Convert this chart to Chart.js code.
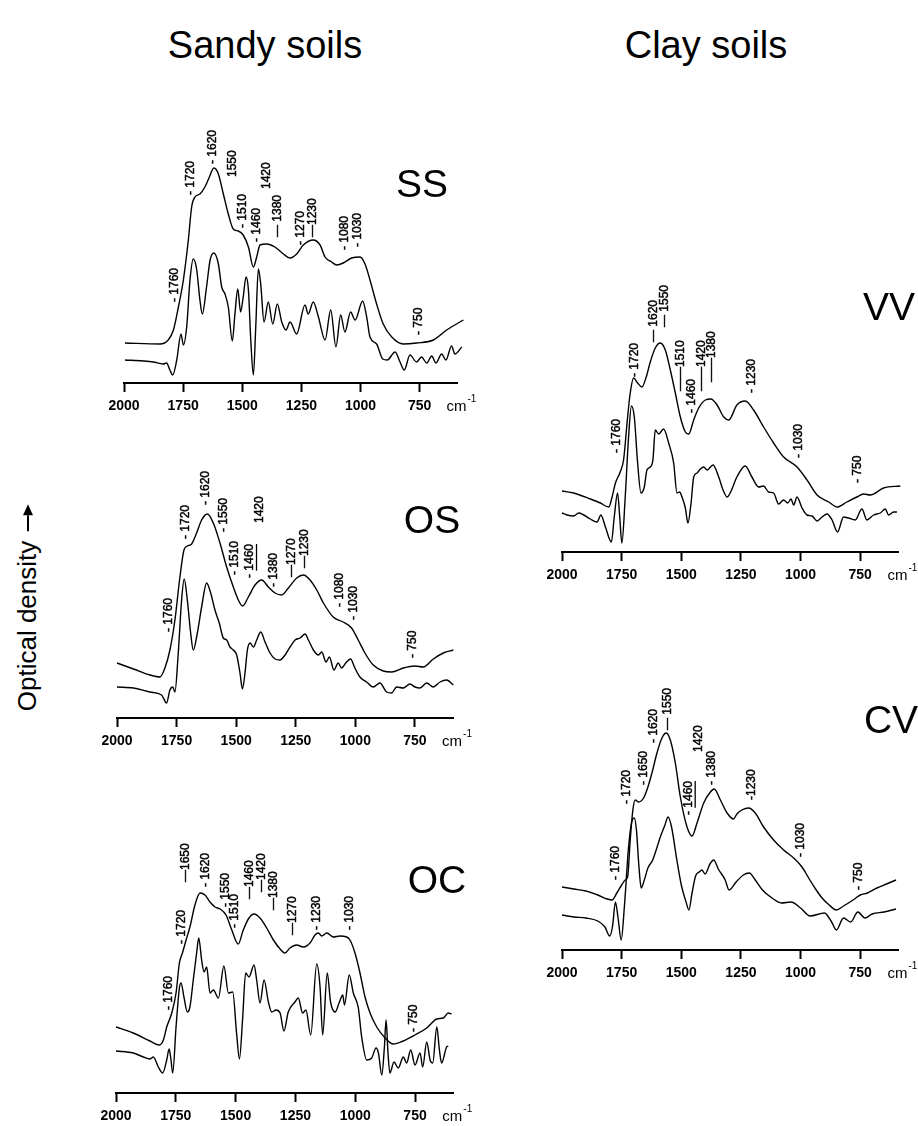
<!DOCTYPE html>
<html>
<head>
<meta charset="utf-8">
<script src="https://cdn.jsdelivr.net/npm/chart.js@4.4.1/dist/chart.umd.min.js"></script>
<style>
  body { margin: 0; background: #fff; }
  #page { position: relative; width: 918px; height: 1126px; overflow: hidden; font-family: "Liberation Sans", Arial, sans-serif; color: #000; }
  #page canvas { position: absolute; }
  .txt { position: absolute; white-space: nowrap; line-height: 1; transform: translateX(-50%); }
  #ylab { position: absolute; white-space: nowrap; line-height: 1; font-size: 26px; transform: translate(-50%, -50%) rotate(-90deg); }
  #ylab .arr { display: inline-block; position: relative; width: 16px; height: 2px; background: #000; vertical-align: middle; margin-left: 9px; margin-right: 11px; top: -1px; }
  #ylab .arr::after { content: ""; position: absolute; right: -11px; top: -4px; border-left: 11px solid #000; border-top: 5px solid transparent; border-bottom: 5px solid transparent; }
</style>
</head>
<body>
<div id="page">
  <div id="ylab" style="left:27px; top:608px;">Optical density<span class="arr"></span></div>
</div>
<script>
// wavenumber axis
const tickValues = [2000, 1750, 1500, 1250, 1000, 750];
const tickLabels = ['2000', '1750', '1500', '1250', '1000', '750'];

// [wavenumber cm-1, optical density (a.u.)]
const ssTop = [[1996,0.40],[1848,0.39],[1813,0.43],[1791,0.53],[1770,0.76],[1749,1.03],[1728,1.43],[1714,1.76],[1700,1.86],[1679,1.89],[1658,1.96],[1639,2.06],[1620,2.15],[1601,2.09],[1580,1.89],[1559,1.69],[1538,1.54],[1517,1.52],[1496,1.48],[1474,1.36],[1453,1.16],[1439,1.26],[1425,1.38],[1397,1.39],[1362,1.36],[1326,1.29],[1298,1.25],[1270,1.29],[1242,1.38],[1200,1.43],[1171,1.38],[1150,1.26],[1122,1.21],[1101,1.18],[1073,1.20],[1038,1.25],[1002,1.26],[981,1.19],[960,1.03],[932,0.79],[904,0.59],[868,0.46],[819,0.39],[763,0.40],[692,0.43],[636,0.53],[565,0.63]];
const ssBottom = [[1996,0.23],[1918,0.22],[1876,0.21],[1834,0.19],[1820,0.20],[1806,0.13],[1794,0.08],[1777,0.23],[1759,0.49],[1749,0.38],[1735,0.56],[1721,1.03],[1707,1.24],[1693,1.14],[1679,0.83],[1669,0.69],[1651,0.96],[1636,1.23],[1620,1.30],[1601,1.19],[1587,0.96],[1573,0.89],[1559,0.76],[1542,0.42],[1531,0.69],[1519,0.94],[1507,0.71],[1496,0.86],[1484,1.06],[1474,0.93],[1464,0.43],[1453,0.08],[1443,0.56],[1432,1.14],[1422,0.99],[1408,0.61],[1390,0.81],[1371,0.59],[1352,0.79],[1333,0.61],[1315,0.53],[1298,0.61],[1270,0.49],[1235,0.78],[1221,0.69],[1200,0.81],[1178,0.66],[1150,0.43],[1126,0.73],[1104,0.36],[1084,0.68],[1066,0.51],[1042,0.71],[1023,0.63],[991,0.82],[974,0.66],[960,0.46],[932,0.39],[906,0.24],[887,0.23],[854,0.31],[833,0.21],[815,0.13],[791,0.28],[763,0.21],[742,0.26],[720,0.20],[699,0.27],[681,0.20],[657,0.29],[639,0.23],[615,0.37],[601,0.29],[572,0.36]];
const ssPeaks = [['- 1760',1784,0.81],['- 1720',1717,1.88],['- 1620',1625,2.19],['1550',1541,2.06],['- 1510',1498,1.55],['- 1460',1439,1.41],['1420',1397,1.94],['\u2014 1380',1350,1.46],['- 1270',1253,1.38],['\u20141230',1202,1.46],['- 1080',1066,1.33],['- 1030',1012,1.36],['- 750',756,0.48]];

const osTop = [[2000,0.55],[1931,0.49],[1862,0.43],[1820,0.41],[1799,0.50],[1778,0.68],[1757,0.98],[1736,1.41],[1719,1.68],[1705,1.72],[1687,1.74],[1666,1.85],[1645,1.98],[1621,2.04],[1596,1.95],[1568,1.75],[1540,1.51],[1512,1.31],[1491,1.18],[1473,1.12],[1449,1.21],[1421,1.33],[1393,1.38],[1365,1.31],[1337,1.25],[1309,1.23],[1281,1.30],[1246,1.40],[1218,1.43],[1190,1.38],[1162,1.28],[1134,1.15],[1093,1.01],[1051,0.96],[1016,0.90],[988,0.78],[960,0.65],[925,0.53],[883,0.47],[848,0.46],[799,0.50],[750,0.52],[715,0.51],[673,0.59],[631,0.65],[589,0.68]];
const osBottom = [[2000,0.31],[1931,0.30],[1862,0.26],[1813,0.23],[1792,0.15],[1778,0.28],[1766,0.31],[1757,0.26],[1743,0.65],[1729,1.18],[1718,1.39],[1705,1.18],[1691,0.85],[1680,0.68],[1663,0.85],[1645,1.11],[1624,1.35],[1607,1.25],[1589,1.08],[1571,0.95],[1554,0.80],[1540,0.78],[1526,0.71],[1512,0.68],[1498,0.63],[1484,0.45],[1474,0.29],[1463,0.45],[1453,0.68],[1442,0.75],[1428,0.71],[1414,0.78],[1397,0.86],[1379,0.76],[1358,0.65],[1337,0.59],[1316,0.58],[1295,0.63],[1274,0.71],[1253,0.78],[1232,0.80],[1211,0.84],[1197,0.78],[1176,0.68],[1155,0.63],[1141,0.66],[1123,0.56],[1109,0.61],[1090,0.48],[1072,0.55],[1058,0.50],[1037,0.56],[1020,0.59],[1002,0.50],[981,0.41],[953,0.36],[925,0.31],[897,0.35],[869,0.26],[848,0.25],[827,0.31],[799,0.30],[771,0.34],[750,0.31],[729,0.30],[701,0.35],[673,0.31],[645,0.36],[617,0.38],[589,0.33]];
const osPeaks = [['- 1760',1785,0.86],['- 1720',1711,1.79],['- 1620',1627,2.13],['- 1550',1554,1.86],['- 1510',1505,1.43],['- 1460',1442,1.40,1],['1420',1403,1.95],['- 1380',1344,1.31],['\u20141270',1267,1.41],['\u20141230',1211,1.50],['- 1080',1067,1.11],['- 1030',1006,0.98],['- 750',760,0.60]];

const ocTop = [[2000,0.66],[1928,0.60],[1858,0.52],[1819,0.48],[1802,0.53],[1788,0.66],[1767,0.80],[1749,1.00],[1735,1.30],[1721,1.41],[1707,1.53],[1691,1.66],[1670,1.88],[1649,2.00],[1628,1.98],[1607,1.91],[1586,1.86],[1565,1.84],[1540,1.78],[1516,1.63],[1489,1.49],[1468,1.63],[1444,1.75],[1423,1.79],[1398,1.75],[1370,1.65],[1342,1.53],[1314,1.44],[1294,1.40],[1273,1.45],[1245,1.48],[1217,1.46],[1189,1.50],[1168,1.58],[1154,1.60],[1140,1.57],[1119,1.60],[1091,1.56],[1064,1.57],[1036,1.56],[1022,1.53],[1001,1.40],[980,1.20],[959,0.96],[938,0.80],[910,0.66],[875,0.55],[841,0.49],[799,0.52],[750,0.58],[701,0.65],[659,0.74],[632,0.75],[611,0.80],[597,0.79]];
const ocBottom = [[2000,0.42],[1928,0.40],[1886,0.36],[1858,0.34],[1844,0.36],[1823,0.26],[1805,0.20],[1788,0.33],[1778,0.44],[1770,0.33],[1763,0.20],[1749,0.66],[1735,1.05],[1728,1.10],[1716,0.96],[1702,0.81],[1691,0.86],[1677,1.13],[1663,1.40],[1654,1.55],[1642,1.33],[1632,1.21],[1621,1.26],[1607,1.00],[1593,1.03],[1572,0.95],[1549,1.27],[1530,1.00],[1512,1.01],[1496,0.60],[1484,0.34],[1471,0.73],[1458,1.20],[1444,1.16],[1423,1.28],[1412,1.13],[1398,0.90],[1381,1.13],[1363,0.91],[1349,0.81],[1331,0.83],[1314,0.80],[1298,0.62],[1280,0.81],[1252,0.91],[1238,0.95],[1220,0.80],[1206,0.83],[1186,0.58],[1161,1.29],[1147,1.06],[1136,0.58],[1117,1.20],[1103,0.91],[1084,0.81],[1066,0.91],[1052,0.98],[1045,0.88],[1025,1.18],[1008,1.00],[987,0.85],[973,0.56],[952,0.33],[931,0.35],[913,0.45],[903,0.40],[889,0.18],[878,0.46],[871,0.73],[863,0.40],[855,0.20],[838,0.31],[820,0.25],[799,0.36],[785,0.30],[768,0.43],[750,0.28],[729,0.40],[718,0.26],[701,0.51],[687,0.33],[676,0.30],[659,0.66],[648,0.43],[639,0.30],[618,0.46],[611,0.47]];
const ocPeaks = [['- 1760',1781,0.83],['- 1720',1725,1.49],['\u20141650',1707,2.11],['- 1620',1624,2.06],['- 1550',1540,1.86],['- 1510',1503,1.65],['\u20141460',1440,1.94],['\u20141420',1391,2.01],['\u20141380',1340,1.83],['\u20141270',1263,1.58],['- 1230',1161,1.63],['- 1030',1025,1.63],['- 750',757,0.61]];

const vvTop = [[2000,0.61],[1951,0.59],[1881,0.53],[1839,0.49],[1804,0.45],[1790,0.55],[1776,0.69],[1756,0.80],[1742,0.92],[1725,1.35],[1714,1.59],[1700,1.74],[1683,1.69],[1665,1.65],[1647,1.75],[1630,1.90],[1609,2.04],[1588,2.09],[1567,2.02],[1546,1.82],[1525,1.59],[1504,1.35],[1483,1.20],[1469,1.18],[1448,1.32],[1427,1.44],[1399,1.52],[1376,1.53],[1350,1.47],[1322,1.35],[1301,1.32],[1267,1.47],[1232,1.51],[1197,1.42],[1155,1.25],[1113,1.09],[1071,0.95],[1015,0.85],[973,0.72],[931,0.57],[882,0.50],[847,0.45],[806,0.50],[764,0.55],[736,0.58],[708,0.57],[652,0.64],[582,0.66]];
const vvBottom = [[2000,0.39],[1979,0.37],[1951,0.36],[1930,0.39],[1909,0.37],[1881,0.33],[1853,0.30],[1837,0.37],[1818,0.25],[1793,0.10],[1781,0.35],[1767,0.59],[1758,0.35],[1749,0.09],[1735,0.55],[1721,1.15],[1709,1.46],[1697,1.35],[1683,0.89],[1669,0.59],[1655,0.65],[1644,0.82],[1630,0.85],[1619,0.92],[1609,1.22],[1595,1.18],[1574,1.23],[1553,1.09],[1532,0.89],[1518,0.59],[1507,0.60],[1497,0.55],[1483,0.44],[1472,0.29],[1459,0.49],[1448,0.75],[1434,0.79],[1420,0.83],[1406,0.85],[1392,0.82],[1367,0.87],[1343,0.75],[1325,0.62],[1308,0.55],[1295,0.59],[1267,0.75],[1232,0.86],[1204,0.75],[1176,0.65],[1155,0.66],[1134,0.60],[1113,0.59],[1092,0.48],[1071,0.52],[1054,0.49],[1040,0.53],[1029,0.47],[1015,0.55],[994,0.44],[973,0.37],[952,0.36],[931,0.31],[910,0.35],[889,0.38],[868,0.32],[845,0.20],[820,0.35],[799,0.34],[771,0.32],[743,0.43],[722,0.32],[694,0.37],[666,0.39],[645,0.43],[631,0.37],[610,0.40],[596,0.40]];
const vvPeaks = [['- 1760',1770,0.99],['- 1720',1695,1.75],['\u2014 1620',1616,2.10],['\u2014 1550',1571,2.25],['\u2014\u20141510',1504,1.61],['- 1460',1455,1.39],['\u2014\u20141420',1413,1.61],['\u2014\u20141380',1371,1.70],['- 1230',1204,1.59],['- 1030',1008,0.94],['- 750',759,0.69]];

const cvTop = [[2000,0.63],[1950,0.61],[1900,0.59],[1850,0.55],[1810,0.51],[1790,0.50],[1770,0.57],[1750,0.65],[1735,0.70],[1725,0.73],[1714,1.10],[1703,1.40],[1693,1.50],[1679,1.48],[1658,1.52],[1644,1.60],[1623,1.77],[1602,1.97],[1581,2.12],[1563,2.17],[1546,2.10],[1525,1.87],[1504,1.53],[1476,1.23],[1455,1.14],[1434,1.27],[1406,1.47],[1378,1.58],[1362,1.61],[1336,1.50],[1308,1.37],[1281,1.31],[1267,1.36],[1246,1.40],[1218,1.42],[1190,1.37],[1155,1.23],[1113,1.10],[1071,1.00],[1029,0.92],[994,0.83],[966,0.72],[940,0.62],[910,0.52],[880,0.45],[850,0.40],[820,0.44],[780,0.50],[750,0.55],[720,0.57],[680,0.62],[640,0.66],[600,0.70]];
const cvBottom = [[2000,0.35],[1950,0.33],[1900,0.32],[1850,0.29],[1820,0.23],[1800,0.14],[1788,0.24],[1776,0.48],[1765,0.32],[1752,0.10],[1738,0.45],[1722,1.00],[1708,1.28],[1697,1.32],[1688,1.20],[1678,0.85],[1668,0.62],[1655,0.70],[1640,0.82],[1620,0.90],[1600,1.04],[1588,1.13],[1570,1.24],[1555,1.33],[1540,1.22],[1520,0.92],[1500,0.65],[1480,0.48],[1468,0.40],[1455,0.57],[1440,0.74],[1425,0.78],[1414,0.80],[1400,0.76],[1380,0.86],[1364,0.90],[1345,0.81],[1316,0.70],[1300,0.60],[1270,0.68],[1240,0.75],[1215,0.77],[1190,0.70],[1160,0.60],[1120,0.52],[1080,0.47],[1040,0.48],[1000,0.42],[960,0.34],[900,0.37],[870,0.28],[850,0.20],[820,0.32],[790,0.28],[760,0.38],[730,0.32],[700,0.36],[650,0.38],[600,0.41]];
const cvPeaks = [['- 1760',1774,0.70],['- 1720',1728,1.46],['- 1650',1658,1.65],['- 1620',1616,2.07],['\u2014 1550',1556,2.20],['- 1460',1469,1.35,1],['1420',1427,1.98],['- 1380',1374,1.65],['-1230',1204,1.50],['- 1030',1001,0.93],['- 750',757,0.60]];

// page geometry of each panel (chart area in px, axis line y, zero reference of the a.u. values)
const panels = [
  { tag: 'SS', top: ssTop, bottom: ssBottom, peaks: ssPeaks, left: 124, right: 457.5, areaTop: 130, axis: 383, ref: 383, tagX: 422, tagY: 197 },
  { tag: 'OS', top: osTop, bottom: osBottom, peaks: osPeaks, left: 117, right: 453.1, areaTop: 470, axis: 718, ref: 718, tagX: 432, tagY: 533 },
  { tag: 'OC', top: ocTop, bottom: ocBottom, peaks: ocPeaks, left: 116, right: 453.3, areaTop: 840, axis: 1093, ref: 1093, tagX: 437, tagY: 893 },
  { tag: 'VV', top: vvTop, bottom: vvBottom, peaks: vvPeaks, left: 561.7, right: 898.1, areaTop: 280, axis: 552, ref: 552, tagX: 889, tagY: 320 },
  { tag: 'CV', top: cvTop, bottom: cvBottom, peaks: cvPeaks, left: 561.7, right: 898.1, areaTop: 690, axis: 950, ref: 950, tagX: 891, tagY: 733 }
];

const FONT = '"Liberation Sans", Arial, Helvetica, sans-serif';
const PAD = 45, PAD_T = 10, AXIS_H = 36, PAD_B = 4;
const page = document.getElementById('page');

function addText(str, x, baseline, size) {
  const d = document.createElement('div');
  d.className = 'txt';
  d.textContent = str;
  d.style.fontSize = size + 'px';
  d.style.left = x + 'px';
  d.style.top = (baseline - 0.8465 * size) + 'px';
  page.appendChild(d);
}

addText('Sandy soils', 265, 58, 38);
addText('Clay soils', 706, 58, 38);

const peakLabels = {
  id: 'peakLabels',
  afterDatasetsDraw(chart, args, opts) {
    const { ctx, chartArea } = chart;
    const x = chart.scales.x, y = chart.scales.y;
    ctx.save();
    ctx.fillStyle = '#000';
    ctx.strokeStyle = '#000';
    ctx.font = '12px ' + FONT;
    ctx.textBaseline = 'middle';
    ctx.textAlign = 'left';
    opts.list.forEach(([text, wn, base, under]) => {
      ctx.save();
      ctx.translate(x.getPixelForValue(wn), y.getPixelForValue(base));
      ctx.rotate(-Math.PI / 2);
      ctx.fillText(text, 0, 0);
      ctx.lineWidth = 0.45;
      ctx.strokeText(text, 0, 0);
      if (under) {
        const digits = text.replace(/^[^0-9]*/, '');
        const dw = ctx.measureText(digits).width;
        const w0 = ctx.measureText(text).width - dw;
        ctx.lineWidth = 1.3;
        ctx.beginPath();
        ctx.moveTo(w0, 6.5);
        ctx.lineTo(w0 + dw, 6.5);
        ctx.stroke();
      }
      ctx.restore();
    });
    // unit at the end of the axis
    const ux = chartArea.right - 11, uy = chartArea.bottom + 24;
    ctx.font = '15px ' + FONT;
    ctx.fillText('cm', ux, uy);
    const cw = ctx.measureText('cm').width;
    ctx.font = '10px ' + FONT;
    ctx.fillText('-1', ux + cw + 1, uy - 8);
    ctx.restore();
  }
};

panels.forEach(p => {
  const w = p.right - p.left, h = p.axis - p.areaTop;
  const cv = document.createElement('canvas');
  cv.width = Math.round(w + 2 * PAD);
  cv.height = Math.round(h + PAD_T + AXIS_H + PAD_B);
  cv.style.left = (p.left - PAD) + 'px';
  cv.style.top = (p.areaTop - PAD_T) + 'px';
  page.appendChild(cv);

  new Chart(cv, {
    type: 'line',
    data: {
      datasets: [p.top, p.bottom].map(s => ({
        data: s.map(([wn, od]) => ({ x: wn, y: od })),
        borderColor: '#000',
        borderWidth: 1.4,
        pointRadius: 0,
        fill: false,
        cubicInterpolationMode: 'monotone',
        clip: false
      }))
    },
    options: {
      responsive: false,
      animation: false,
      events: [],
      layout: { padding: { left: PAD, right: cv.width - PAD - w, top: PAD_T, bottom: PAD_B } },
      plugins: {
        legend: { display: false },
        tooltip: { enabled: false },
        peakLabels: { list: p.peaks }
      },
      scales: {
        x: {
          type: 'linear',
          reverse: true,
          min: 590,
          max: 2000,
          afterBuildTicks: s => { s.ticks = tickValues.map(v => ({ value: v })); },
          afterFit: s => { s.height = AXIS_H; },
          ticks: {
            autoSkip: false,
            maxRotation: 0,
            padding: 6,
            color: '#000',
            font: { family: FONT, size: 14, weight: 'bold' },
            callback: v => tickLabels[tickValues.indexOf(v)]
          },
          grid: { drawOnChartArea: false, drawTicks: true, tickLength: 9, tickWidth: 2, color: '#000' },
          border: { display: true, width: 2, color: '#000' }
        },
        y: {
          display: false,
          min: (p.ref - p.axis) / 100,
          max: (p.ref - p.areaTop) / 100
        }
      }
    },
    plugins: [peakLabels]
  });

  addText(p.tag, p.tagX, p.tagY, 39);
});
</script>
</body>
</html>
